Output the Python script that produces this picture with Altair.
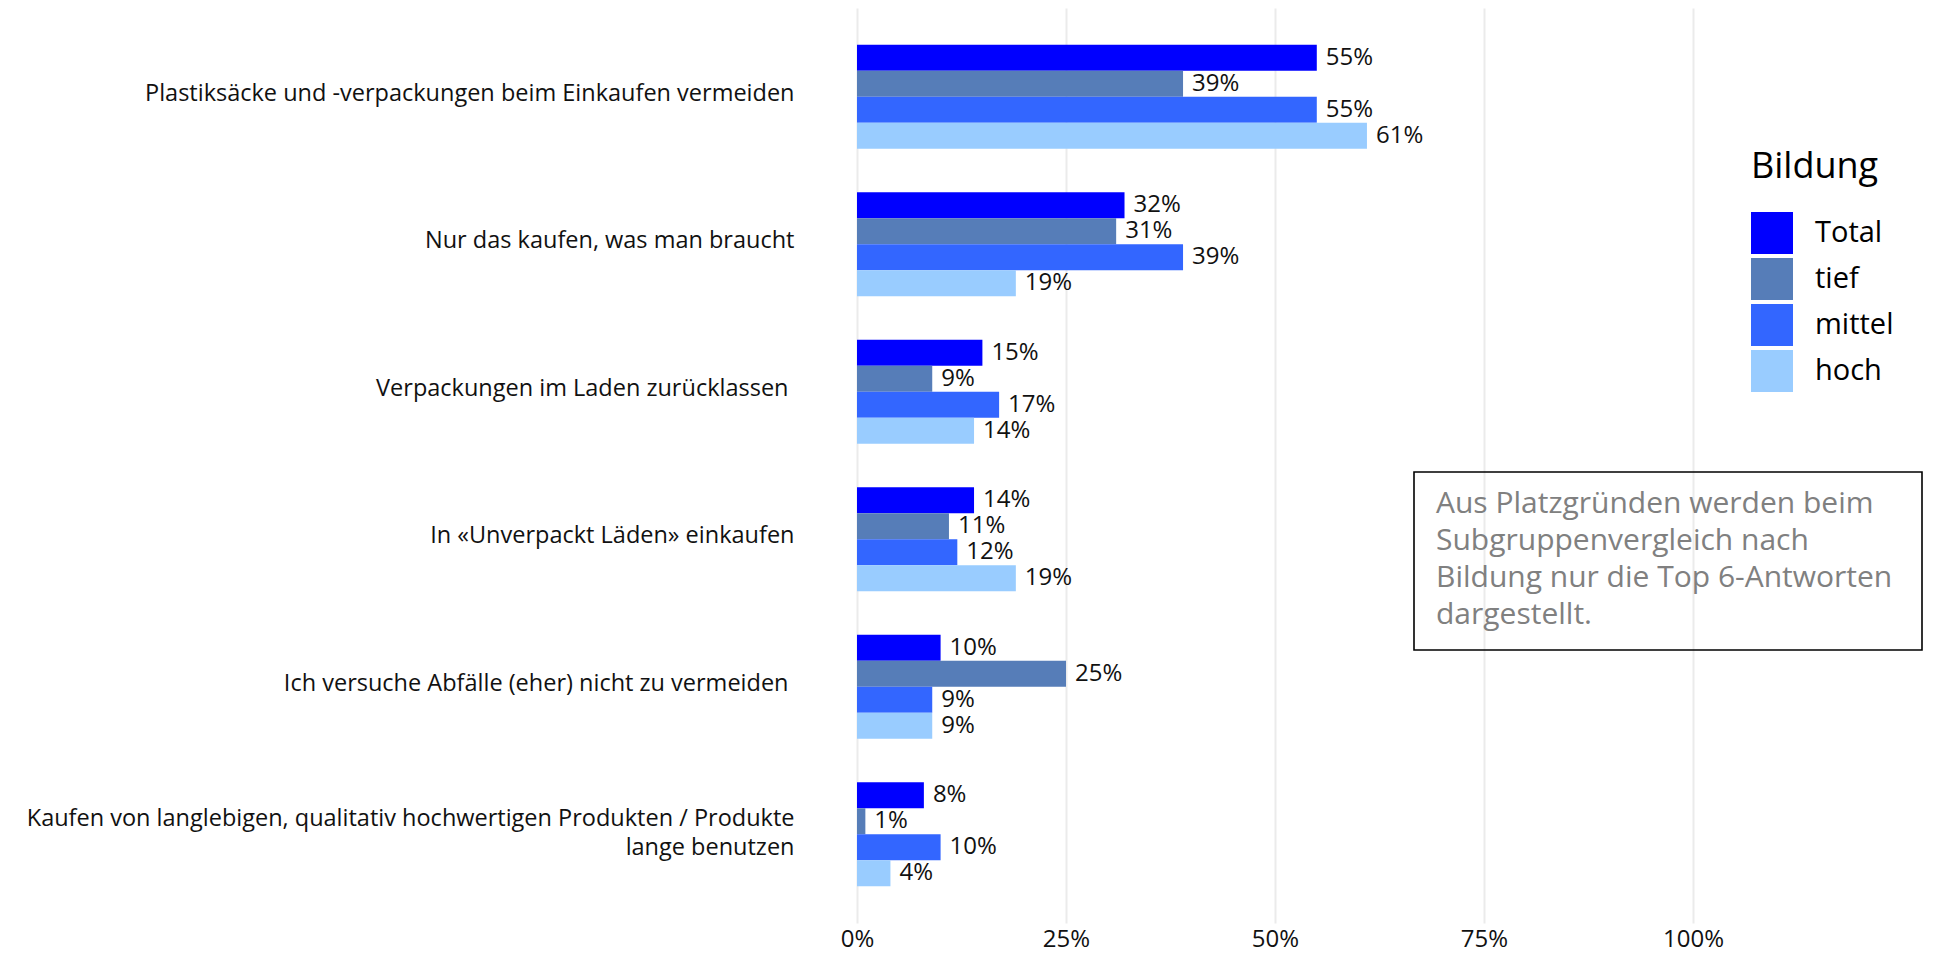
import altair as alt
import pandas as pd

categories = [
    "Plastiksäcke und -verpackungen beim Einkaufen vermeiden",
    "Nur das kaufen, was man braucht",
    "Verpackungen im Laden zurücklassen ",
    "In «Unverpackt Läden» einkaufen",
    "Ich versuche Abfälle (eher) nicht zu vermeiden ",
    "Kaufen von langlebigen, qualitativ hochwertigen Produkten / Produkte\nlange benutzen",
]
groups = ["Total", "tief", "mittel", "hoch"]
total = [55, 32, 15, 14, 10, 8]
tief = [39, 31, 9, 11, 25, 1]
mittel = [55, 39, 17, 12, 9, 10]
hoch = [61, 19, 14, 19, 9, 4]
colors = ["#0000FF", "#567DB8", "#3366FF", "#99CCFF"]
x_ticks = [0, 25, 50, 75, 100]
note_lines = [
    "Aus Platzgründen werden beim",
    "Subgruppenvergleich nach",
    "Bildung nur die Top 6-Antworten",
    "dargestellt.",
]

FONT = "Open Sans"

series = {"Total": total, "tief": tief, "mittel": mittel, "hoch": hoch}
rows = []
for g in groups:
    for c, v in zip(categories, series[g]):
        rows.append({"cat": c, "group": g, "value": v, "label": f"{v}%"})
df = pd.DataFrame(rows)

y_enc = alt.Y(
    "cat:N",
    sort=categories,
    scale=alt.Scale(paddingInner=0.295, paddingOuter=0.249),
    axis=alt.Axis(
        title=None,
        labelExpr="split(datum.label, '\\n')",
        labelFontSize=23.5,
        labelPadding=alt.condition(
            "slice(datum.value, -1) == ' '", alt.value(69), alt.value(63)
        ),
        labelLineHeight=29,
        labelLimit=1200,
        labelAlign="right",
        labelColor="#111111",
        labelFont=FONT,
        labelOffset=alt.condition(
            "indexof(datum.value, '\\n') >= 0", alt.value(-15), alt.value(-3)
        ),
        ticks=False,
        domain=False,
        grid=False,
    ),
)
yoff = alt.YOffset("group:N", sort=groups, scale=alt.Scale(paddingInner=0, paddingOuter=0))
x_enc = alt.X(
    "value:Q",
    scale=alt.Scale(domain=[0, 100], nice=False),
    axis=alt.Axis(
        title=None,
        values=x_ticks,
        labelExpr="datum.value + '%'",
        labelFontSize=24,
        labelPadding=4,
        labelFlush=False,
        labelColor="#111111",
        labelFont=FONT,
        ticks=False,
        domain=False,
        grid=True,
        gridColor="#EBEBEB",
        gridWidth=2,
    ),
)

bars = alt.Chart(df).mark_bar().encode(
    y=y_enc,
    yOffset=yoff,
    x=x_enc,
    color=alt.Color(
        "group:N",
        sort=groups,
        scale=alt.Scale(domain=groups, range=colors),
        legend=alt.Legend(
            title="Bildung",
            orient="none",
            legendX=894,
            legendY=142,
            titleFontSize=36,
            titleFontWeight="normal",
            titleFont=FONT,
            titleColor="#000000",
            titlePadding=26,
            labelFontSize=29,
            labelFont=FONT,
            labelColor="#000000",
            labelOffset=22,
            symbolType="square",
            symbolSize=1764,
            symbolStrokeWidth=0,
            symbolOpacity=1,
            rowPadding=4,
            padding=0,
        ),
    ),
)

texts = alt.Chart(df).mark_text(
    align="left", baseline="middle", dx=9, fontSize=24, font=FONT, color="#111111"
).encode(y=y_enc, yOffset=yoff, x=x_enc, text="label:N")

box_df = pd.DataFrame({"k": [0]})
box = alt.Chart(box_df).mark_rect(
    fillOpacity=0, stroke="#000000", strokeWidth=1.6
).encode(
    x=alt.value(557), x2=alt.value(1065), y=alt.value(464), y2=alt.value(642)
)

note_df = pd.DataFrame({"t": ["\n".join(note_lines)]})
note = alt.Chart(note_df).mark_text(
    align="left", baseline="alphabetic", fontSize=30, font=FONT, color="#808080",
    lineBreak="\n", lineHeight=37,
).encode(x=alt.value(579), y=alt.value(505), text="t:N")

chart = alt.layer(bars, texts, box, note).properties(
    width=836,
    height=915,
    autosize=alt.AutoSizeParams(type="none"),
    padding={"left": 849, "top": 0, "right": 235, "bottom": 27},
    background="white",
).configure(font=FONT).configure_view(stroke=None, strokeWidth=0)

chart.save("out.html", embed_options={"renderer": "svg", "actions": False})
